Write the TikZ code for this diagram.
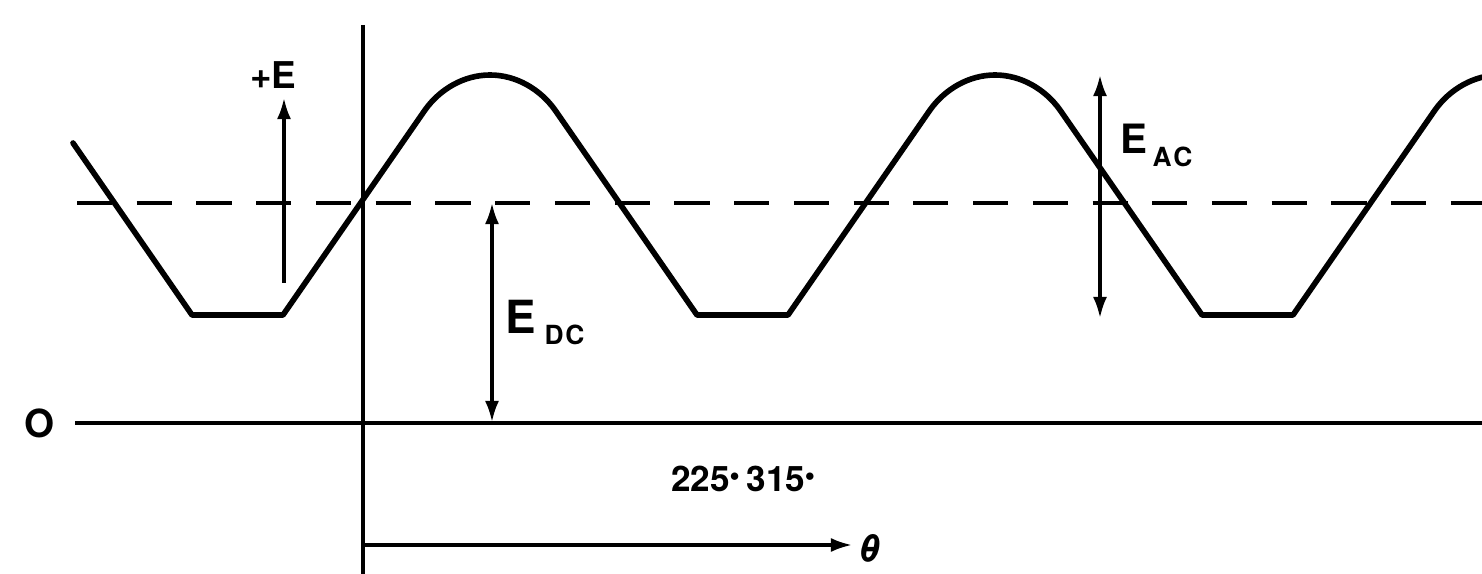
\documentclass[tikz,border=0pt]{standalone}
\usepackage{fontspec}
\setmainfont{TeX Gyre Heros}
\usetikzlibrary{arrows.meta}
\tikzset{
  wave/.style={line width=3.2pt, line join=round, line cap=round},
  axis/.style={line width=2pt},
  refline/.style={line width=2pt, dash pattern=on 20pt off 14pt},
  dim/.style={line width=1.8pt},
  tip/.style={-{Latex[length=12pt,width=8pt]}},
  dtip/.style={{Latex[length=12pt,width=8pt]}-{Latex[length=12pt,width=8pt]}},
  lab/.style={inner sep=0pt, font=\bfseries}
}
\newcommand{\bigE}{\fontsize{26}{28}\selectfont}
\newcommand{\midE}{\fontsize{23}{25}\selectfont}
\newcommand{\smlE}{\fontsize{21}{23}\selectfont}
\newcommand{\subE}{\fontsize{15}{17}\selectfont}
\newcommand{\degdot}{\raisebox{6pt}{\fontsize{11}{11}\selectfont$\bullet$}}
\begin{document}
\begin{tikzpicture}[x=0.02cm, y=-0.02cm]
\useasboundingbox (0,0) rectangle (1482,574);
% reference lines
\coordinate (dl) at (77,203);
\coordinate (dr) at (1482,203);
\coordinate (zl) at (75,423);
\coordinate (zr) at (1482,423);
\coordinate (vt) at (363,25);
\coordinate (vb) at (363,574);
\draw[refline] (dl) -- (dr);
\draw[axis] (zl) -- (zr);
\draw[axis] (vt) -- (vb);
% waveform
\begin{scope}
\clip (0,0) rectangle (1482,574);
\draw[wave] (73,143) -- (192,315) -- (283,315) -- (425,110)
  .. controls (440,89) and (464,75) .. (490,75)
  .. controls (516,75) and (540,89) .. (555,110)
  -- (697,315) -- (788,315) -- (930,110)
  .. controls (945,89) and (969,75) .. (995,75)
  .. controls (1021,75) and (1045,89) .. (1060,110)
  -- (1202,315) -- (1293,315) -- (1435,110)
  .. controls (1450,89) and (1474,75) .. (1500,75);
\end{scope}
% +E arrow
\coordinate (pe0) at (284,283);
\coordinate (pe1) at (284,98);
\draw[dim,tip] (pe0) -- (pe1);
\node[lab, anchor=base west] (pE) at (250,89) {\smlE +E};
% E_DC
\coordinate (dc0) at (492,203);
\coordinate (dc1) at (492,422);
\draw[dim,dtip] (dc0) -- (dc1);
\node[lab, anchor=base west] (EDC) at (505,334) {\bigE E\hspace{5pt}\raisebox{-6pt}{\subE D\hspace{1pt}C}};
% E_AC
\coordinate (ac0) at (1100,75);
\coordinate (ac1) at (1100,318);
\draw[dim,dtip] (ac0) -- (ac1);
\node[lab, anchor=base west] (EAC) at (1120,154) {\midE E\hspace{3pt}\raisebox{-7pt}{\subE A\hspace{1pt}C}};
% zero label
\node[lab] (O) at (40,423) {\fontsize{22}{24}\selectfont O};
% angle labels
\node[lab] (ang) at (743,479) {\fontsize{20}{22}\selectfont 225\degdot\hspace{4pt}315\degdot};
% theta arrow
\coordinate (th0) at (363,545);
\coordinate (th1) at (852,545);
\draw[dim,tip] (th0) -- (th1);
\node[lab, anchor=west] (theta) at (858,548) {\fontsize{22}{24}\selectfont\itshape θ};
\end{tikzpicture}
\end{document}
